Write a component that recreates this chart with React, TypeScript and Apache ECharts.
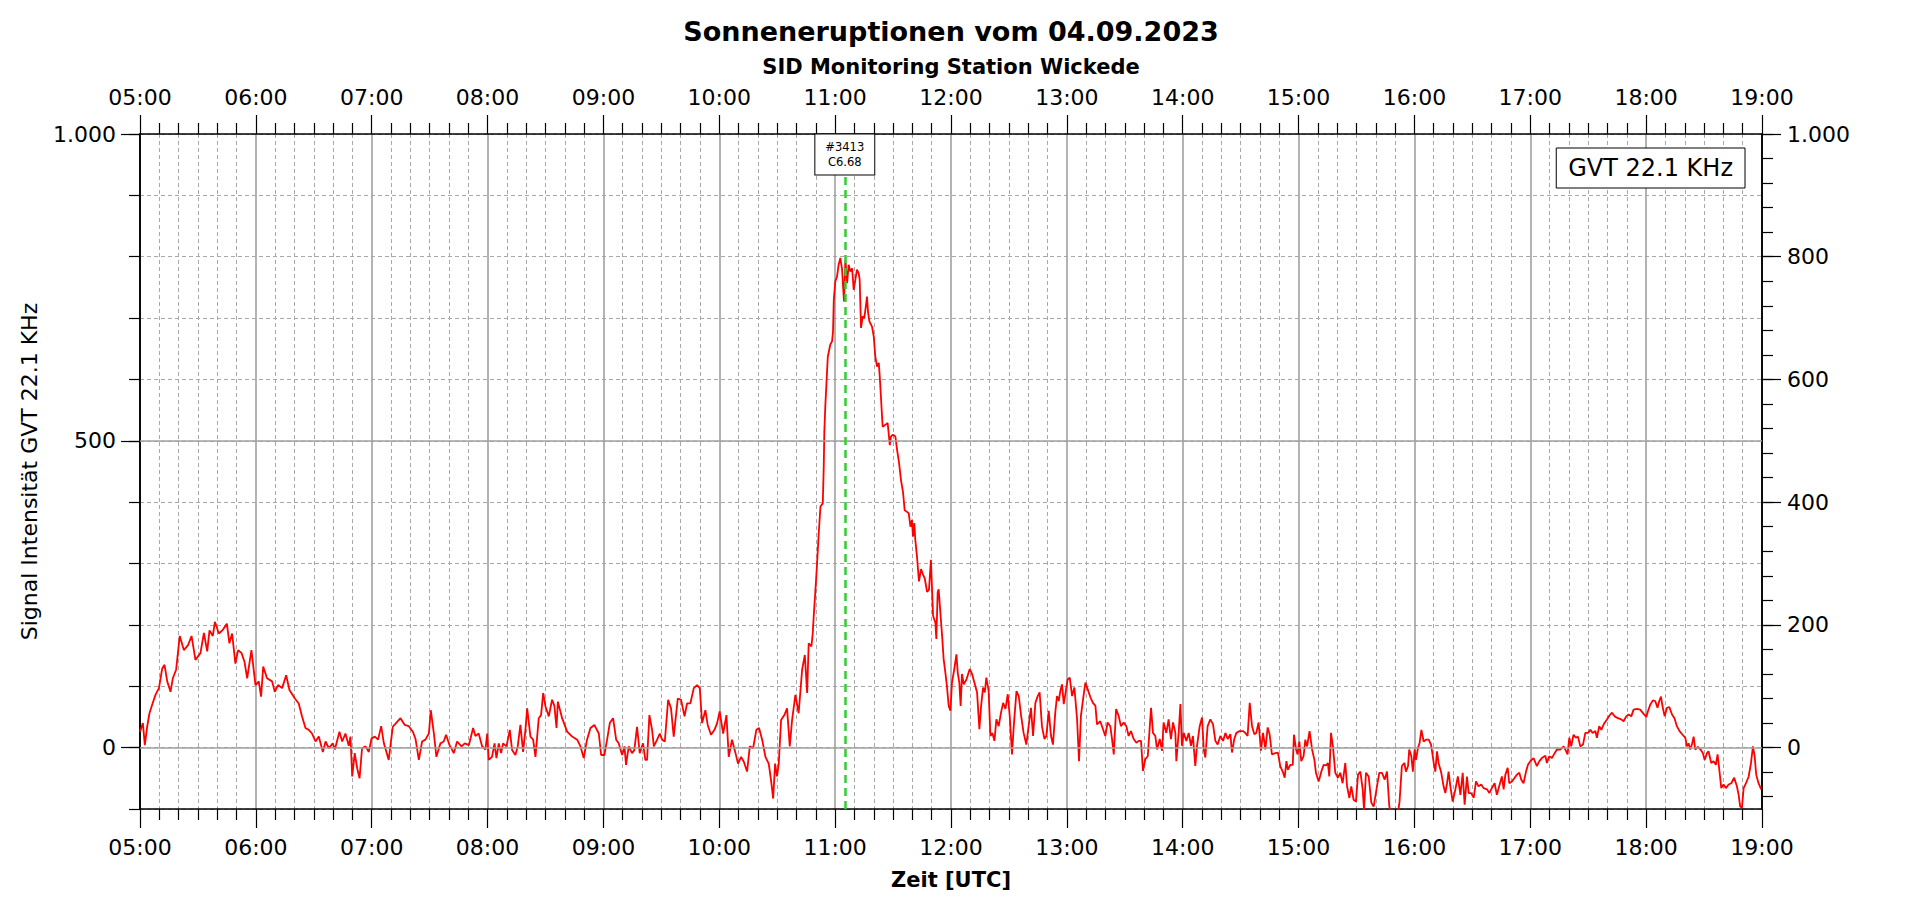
import React, { useEffect, useRef } from "react";
import * as echarts from "echarts";

// Signal values: [minutes after 05:00 UTC, intensity]
const seg0500: [number, number][] = [
  [0, 26], [1.5, 40], [2.5, 4], [3.7, 34], [4.9, 56], [6.3, 70], [8.0, 86], [9.8, 97], [11.5, 129], [12.7, 135],
  [14.1, 108], [15.8, 91], [17.0, 113], [18.7, 127], [20.6, 182], [22.7, 159], [24.9, 167], [26.7, 182], [28.7, 143],
  [31.3, 154], [33.1, 187], [34.8, 157], [36.0, 191], [37.7, 182], [38.8, 205], [40.8, 186], [42.9, 192], [45.0, 202],
  [46.3, 170], [47.7, 186], [49.4, 137], [50.8, 159], [52.6, 154], [54.1, 140], [55.5, 113], [57.7, 159], [59.8, 102],
  [61.5, 108], [62.7, 83], [63.8, 132], [65.8, 113], [68.4, 108], [69.8, 91], [71.5, 102], [73.6, 97], [75.7, 118],
  [77.4, 94], [80.2, 80], [82.2, 72], [84.0, 50], [85.7, 32], [87.4, 29], [89.1, 23], [90.9, 10], [92.6, 18], [94.7, -7],
  [96.1, 10], [97.8, -1], [99.8, 7], [100.9, -3], [103.3, 26], [104.7, 10], [106.4, 23], [108.1, 3], [109.0, 18],
  [109.9, -47], [111.2, -9], [112.5, -34], [113.7, -50], [115.0, -1], [116.8, 2], [118.5, -7], [119.9, 15],
];

const seg0700: [number, number][] = [
  [121.6, 18], [123.3, 13], [124.9, 35], [126.3, 7], [128.8, -20], [130.9, 34], [132.6, 40], [134.9, 48], [137.1, 37],
  [139.2, 35], [141.3, 26], [142.7, 14], [144.4, -20], [146.1, 10], [147.8, 13], [149.6, 23], [150.6, 61], [152.2, 23],
  [153.5, -15], [155.6, 7], [157.3, 10], [158.5, 21], [160.3, 4], [162.5, -9], [164.2, 10], [166.5, 2], [168.2, 7],
  [170.3, 4], [172.5, 32], [173.7, 19], [175.4, 23], [177.2, 2], [178.9, -3], [179.8, 23], [180.6, -20], [182.3, -15],
  [183.6, 7], [184.6, -17], [185.8, 7], [187.0, -9], [188.0, 7], [189.8, 2], [191.5, 29], [192.7, -4], [194.4, -12],
  [195.6, 2], [197.0, 37], [198.4, -7], [199.6, 29], [200.5, 64], [202.2, 18], [203.6, 13], [204.8, -15], [206.5, 48],
  [207.7, 53], [208.8, 89], [210.0, 67], [211.7, 51], [213.4, 78], [214.6, 68], [215.7, 32], [216.4, 75], [218.6, 48],
  [221.2, 26], [223.8, 18], [226.4, 13], [228.1, 2], [229.8, -17], [231.5, 13], [233.3, 32], [235.3, 37], [237.6, 23],
  [238.8, -12],
];

const seg0900: [number, number][] = [
  [240.5, -12], [241.9, 13], [243.3, 40], [245.0, 48], [246.6, 13], [247.9, 7], [249.7, -12], [250.9, 2], [251.7, -28],
  [253.1, 2], [254.8, -9], [256.0, -4], [257.4, 34], [258.8, -9], [260.5, 7], [261.7, -20], [262.6, -20], [263.8, 53],
  [265.2, 29], [266.1, 2], [267.8, 13], [269.2, 23], [270.4, 13], [271.8, 10], [273.5, 78], [275.0, 64], [276.4, 18],
  [278.5, 80], [280.2, 78], [282.0, 51], [283.3, 72], [285.0, 72], [286.8, 97], [288.5, 102], [289.9, 97], [291.1, 40],
  [292.8, 61], [294.0, 37], [295.7, 21], [297.5, 29], [298.9, 40], [300.2, 59], [302.0, 23], [303.7, 53], [304.9, -15],
  [306.6, 13], [308.4, -9], [309.7, -26], [311.3, -15], [312.7, -23], [314.4, -39], [315.8, 2], [317.5, -1], [319.2, 29],
  [320.6, 32], [322.2, 13], [323.9, -15], [325.6, -26], [326.8, -53], [327.9, -83], [328.9, -26], [329.9, -47],
  [330.8, -26], [332.0, 45], [333.7, 53], [335.1, 64], [336.5, 2], [337.7, 45], [339.4, 86], [341.1, 56], [342.9, 127],
  [344.3, 151], [345.5, 89], [346.3, 170], [347.7, 165],
];

const segFlare: [number, number][] = [
  [348.4, 186], [348.9, 214], [349.8, 257], [350.6, 298], [351.5, 349], [352.4, 393], [353.6, 398], [354.1, 458],
  [354.4, 515], [354.9, 556], [355.5, 594], [356.2, 637], [357.5, 657], [358.4, 662], [358.9, 678], [359.3, 730],
  [360.1, 760], [361.0, 768], [361.8, 787], [362.7, 798], [363.6, 779], [364.1, 752], [364.6, 727], [365.3, 795],
  [366.2, 757], [367.0, 787], [367.9, 776], [368.8, 781], [369.6, 746], [370.5, 763], [371.3, 779], [372.2, 773],
  [372.7, 763], [373.4, 684], [374.3, 703], [375.1, 700], [376.0, 722], [376.5, 735], [377.0, 711], [377.7, 695],
  [379.1, 686], [380.0, 670], [380.8, 637], [381.7, 621], [382.6, 627], [383.1, 605], [383.8, 567], [384.6, 523],
  [386.0, 526], [387.2, 529], [388.3, 493], [388.9, 507], [390.0, 510], [391.2, 507], [392.1, 485], [393.1, 464],
  [394.1, 436], [395.2, 415], [396.0, 387], [396.9, 385], [398.1, 382], [399.0, 360], [399.8, 371], [400.3, 344],
  [401.0, 366], [401.5, 339], [402.4, 311], [403.4, 271], [404.5, 291], [405.5, 282], [406.4, 276], [407.6, 254],
  [408.6, 257], [409.6, 306], [410.7, 215], [411.9, 204], [412.4, 177], [413.1, 253], [413.6, 258], [414.5, 220],
  [415.4, 182], [416.2, 144], [417.1, 122], [417.9, 100], [418.8, 68], [419.7, 60],
];

const seg1200: [number, number][] = [
  [420.5, 106], [421.7, 128], [422.8, 152], [423.5, 122], [424.3, 106], [425.0, 68], [425.7, 120], [426.6, 103],
  [428.0, 111], [429.7, 128], [430.9, 120], [432.1, 106], [433.5, 90], [434.7, 30], [435.6, 68], [436.6, 98], [437.5, 90],
  [438.3, 114], [439.5, 92], [440.4, 19], [441.4, 24], [442.5, 11], [443.5, 46], [444.7, 35], [445.9, 57], [447.0, 73],
  [448.2, 63], [449.4, 87], [450.4, 52], [451.6, -11], [452.5, 35], [453.9, 92], [455.1, 84], [456.3, 52], [457.6, 24],
  [459.0, 5], [460.2, 35], [461.4, 65], [462.5, 19], [463.7, 73], [464.9, 84], [465.9, 90], [467.1, 35], [468.4, 14],
  [469.4, 19], [470.6, 60], [471.8, 19], [472.8, 5], [474.0, 57], [474.9, 84], [475.8, 76], [476.6, 92], [477.5, 103],
  [478.4, 71], [479.6, 95], [480.4, 111], [481.5, 114], [482.7, 84], [483.9, 98], [485.3, 46], [486.3, -22], [487.3, 52],
  [488.4, 79], [489.6, 106], [490.8, 95], [492.2, 82], [493.5, 73], [494.8, 68], [495.6, 38], [497.3, 43], [498.7, 30],
  [499.9, 19], [501.1, 41], [502.5, 35], [503.4, 14], [504.3, -11], [505.5, 63], [506.8, 52], [508.0, 35], [509.4, 41],
  [510.8, 35], [512.0, 19], [513.2, 27], [514.6, 14], [516.0, 8], [517.2, 11], [518.4, 11], [519.4, -38], [520.6, -19],
  [521.9, -14], [523.6, 65], [524.6, 24], [525.8, 19], [526.7, -3], [528.1, 14], [529.3, -5], [530.1, 41], [531.5, 24],
  [532.7, 46], [533.9, 14], [535.0, 41], [536.2, 24], [536.7, -22], [537.9, 24], [538.8, 71], [539.6, 3],
];

const seg1400: [number, number][] = [
  [540.5, 24], [541.9, 11], [543.1, 24], [544.3, 3], [545.3, 19], [546.5, -30], [547.4, 3], [548.8, 35], [550.0, 49],
  [550.9, -3], [551.7, -16], [552.9, 35], [554.3, 46], [555.7, 38], [556.9, 11], [558.1, 5], [559.5, 19], [560.9, 11],
  [562.1, 24], [563.3, 14], [564.7, 22], [565.5, -8], [566.7, 14], [567.8, 24], [569.5, 27], [571.2, 27], [572.4, 24],
  [573.6, 19], [574.7, 73], [575.9, 35], [577.1, 22], [578.1, 24], [579.3, 41], [580.5, -5], [581.6, 24], [582.8, -3],
  [584.0, 33], [585.0, 22], [586.2, -11], [588.0, -9], [589.3, -8], [590.5, -30], [591.8, -39], [592.8, -49], [593.7, -22],
  [594.5, -36], [595.7, -28], [597.0, -28], [597.6, 21], [598.7, -3], [599.5, -11], [600.4, 10], [601.4, -22],
  [602.6, -14], [603.5, 13], [604.4, 2], [605.7, 27], [607.0, -3], [608.2, -20], [609.0, -41], [610.4, -55], [611.8, -39],
  [613.0, -28], [614.2, -29], [615.2, -25], [615.9, -47], [616.8, 24], [617.8, 2], [619.0, -41], [620.4, -49],
  [621.6, -41], [622.8, -58], [624.2, -25], [625.1, -63], [626.3, -82], [627.3, -63], [628.5, -85], [629.7, -88],
  [630.8, -44], [632.0, -39], [633.2, -68], [633.9, -101], [634.9, -41], [636.3, -47], [637.7, -90], [638.9, -96],
  [640.6, -63], [641.8, -41], [643.2, -41], [644.6, -52], [645.8, -39], [647.0, -96], [648.4, -117], [651.0, -117],
  [652.3, -88], [653.5, -30], [654.8, -25], [655.6, -39], [656.7, -30], [657.3, -3], [658.4, -14], [659.2, -39],
];

const seg1600: [number, number][] = [
  [660.1, -3], [660.8, -20], [661.8, -1], [662.7, 8], [663.6, 29], [664.8, 10], [666.0, 13], [667.4, 13], [668.6, 5],
  [670.0, -25], [670.8, -39], [671.7, -6], [672.5, -25], [673.9, -41], [675.1, -63], [676.0, -74], [676.9, -58],
  [677.7, -39], [678.6, -63], [679.8, -88], [681.2, -68], [682.5, -47], [683.8, -77], [685.0, -41], [686.0, -93],
  [687.2, -47], [688.1, -74], [689.4, -74], [690.7, -82], [691.9, -55], [693.2, -63], [694.6, -60], [695.8, -66],
  [697.6, -68], [698.8, -74], [700.1, -66], [701.5, -58], [702.7, -77], [703.9, -63], [705.3, -47], [706.2, -68],
  [707.1, -44], [708.3, -33], [709.1, -58], [710.5, -55], [711.9, -49], [713.1, -44], [714.3, -41], [715.3, -52],
  [716.5, -58], [717.8, -39], [718.8, -28], [720.0, -22], [721.7, -17], [723.4, -30], [724.7, -22], [726.0, -17],
  [727.8, -13], [728.6, -25], [729.8, -14], [731.2, -17], [732.6, -9], [733.8, -3], [735.5, -3], [737.3, 2], [738.1, -3],
  [739.3, -11], [740.2, 16], [741.2, 2], [742.4, 21], [743.6, 16], [744.7, 18], [745.9, 2], [747.3, 5], [748.5, 24],
  [749.9, 24], [751.1, 29], [752.3, 24], [753.7, 27], [754.5, 16], [755.7, 35], [756.8, 29], [758.0, 38], [759.7, 46],
  [760.9, 52], [762.3, 57], [763.7, 51], [765.4, 48], [767.1, 46], [768.3, 43], [769.7, 51], [770.9, 54], [772.3, 51],
  [773.5, 62], [775.2, 63], [776.9, 62], [778.7, 55],
];

const seg1800: [number, number][] = [
  [780.1, 50], [780.9, 59], [782.1, 70], [783.5, 77], [784.7, 76], [785.9, 65], [786.8, 76], [787.7, 83], [788.5, 67],
  [789.6, 51], [790.8, 65], [792.0, 66], [793.4, 54], [794.7, 48], [795.9, 35], [797.3, 27], [798.9, 21], [800.3, 16],
  [801.1, 2], [802.0, 7], [802.8, -3], [803.7, 5], [804.6, 18], [805.4, -3], [806.8, 1], [808.2, -3], [809.4, -9],
  [810.3, -20], [811.5, -9], [812.3, -6], [813.7, -25], [814.9, -22], [816.1, -28], [817.0, -11], [817.9, -36],
  [818.9, -66], [820.1, -60], [821.3, -66], [822.7, -60], [824.1, -58], [825.6, -49], [827.0, -63], [827.9, -77],
  [828.7, -96], [829.6, -98], [830.5, -66], [831.7, -58], [833.1, -47], [834.3, -25], [835.3, 2], [836.2, -14],
  [837.0, -44], [838.2, -58], [839.6, -68],
];

const START_HOUR = 5;
const X_MIN = 0;
const X_MAX = 840;
const Y_MIN = -100;
const Y_MAX = 1000;
const leftLabelValues = [0, 500, 1000];
const rightLabelValues = [0, 200, 400, 600, 800, 1000];
const rightMinorTickValues = [-80, -40, 0, 40, 80, 120, 160, 200, 240, 280, 320, 360, 400, 440, 480, 520, 560, 600, 640, 680, 720, 760, 800, 840, 880, 920, 960, 1000];
const solidRefLines = [0, 500];

const flareTime = 365; // 11:05 UTC
const flareBoxBottom = 934;
const flareLabel = "#3413\nC6.68";

const TITLE = "Sonneneruptionen vom 04.09.2023";
const SUBTITLE = "SID Monitoring Station Wickede";
const SERIES_NAME = "GVT 22.1 KHz";
const Y_NAME = "Signal Intensität GVT 22.1 KHz";
const X_NAME = "Zeit [UTC]";

const FONT = '"DejaVu Sans", sans-serif';
const GRID_GRAY = "#a0a0a0";
const DASH_GRAY = "#a8a8a8";

const fmtTime = (v: number) => `${String(START_HOUR + Math.round(v / 60)).padStart(2, "0")}:00`;
const fmtVal = (v: number) => (v >= 1000 ? "1.000" : String(v));

export default function App() {
  const ref = useRef<HTMLDivElement>(null);
  useEffect(() => {
    if (!ref.current) return;
    const chart = echarts.init(ref.current, undefined, { renderer: "svg" });
    const data = [...seg0500, ...seg0700, ...seg0900, ...segFlare, ...seg1200, ...seg1400, ...seg1600, ...seg1800];
    const gridRect = { left: 140, top: 134, right: 158, bottom: 95 };
    const labelStyle = { color: "#000", fontSize: 22, fontFamily: FONT };
    const xBase = {
      type: "value" as const,
      min: X_MIN,
      max: X_MAX,
      interval: 60,
      axisLine: { show: true, onZero: false, lineStyle: { color: "#000", width: 1.5 } },
      axisTick: { show: true, length: 19, lineStyle: { color: "#000", width: 1.2 } },
      minorTick: { show: true, splitNumber: 6, length: 11, lineStyle: { color: "#000", width: 1.2 } },
    };
    const option: any = {
      animation: false,
      backgroundColor: "#fff",
      graphic: [
        {
          type: "text",
          x: 951,
          y: 31,
          style: {
            text: TITLE, fill: "#000", fontSize: 27, fontWeight: "bold", fontFamily: FONT,
            align: "center", verticalAlign: "middle", textAlign: "center", textVerticalAlign: "middle",
          },
        },
        {
          type: "text",
          x: 951,
          y: 67,
          style: {
            text: SUBTITLE, fill: "#000", fontSize: 21, fontWeight: "bold", fontFamily: FONT,
            align: "center", verticalAlign: "middle", textAlign: "center", textVerticalAlign: "middle",
          },
        },
      ],
      legend: {
        data: [SERIES_NAME],
        right: 175,
        top: 148,
        icon: "none",
        itemWidth: 0,
        itemHeight: 0,
        selectedMode: false,
        backgroundColor: "#fff",
        borderColor: "#000",
        borderWidth: 1,
        borderRadius: 0,
        padding: [8, 12, 8, 7],
        textStyle: { color: "#000", fontSize: 24, fontFamily: FONT },
      },
      grid: [
        { ...gridRect, containLabel: false },
        { ...gridRect, containLabel: false },
      ],
      xAxis: [
        {
          ...xBase,
          gridIndex: 0,
          position: "bottom",
          name: X_NAME,
          nameLocation: "middle",
          nameGap: 60,
          nameTextStyle: { color: "#000", fontSize: 21, fontWeight: "bold", fontFamily: FONT },
          axisLabel: { ...labelStyle, margin: 27, formatter: fmtTime },
          splitLine: { show: true, lineStyle: { color: GRID_GRAY, width: 1.6, type: "solid" } },
          minorSplitLine: { show: true, lineStyle: { color: DASH_GRAY, width: 1, type: [4, 3] } },
        },
        {
          ...xBase,
          gridIndex: 0,
          position: "top",
          axisLabel: { ...labelStyle, margin: 26, formatter: fmtTime },
          splitLine: { show: false },
          minorSplitLine: { show: false },
        },
        { type: "value", gridIndex: 1, min: X_MIN, max: X_MAX, show: false },
      ],
      yAxis: [
        {
          type: "value",
          gridIndex: 0,
          position: "left",
          min: Y_MIN,
          max: Y_MAX,
          interval: 100,
          name: Y_NAME,
          nameLocation: "middle",
          nameGap: 100,
          nameTextStyle: { color: "#000", fontSize: 22, fontFamily: FONT },
          axisLine: { show: true, onZero: false, lineStyle: { color: "#000", width: 1.5 } },
          axisTick: { show: true, length: 11, lineStyle: { color: "#000", width: 1.2 } },
          axisLabel: { ...labelStyle, margin: 24, customValues: leftLabelValues, formatter: fmtVal },
          splitLine: { show: true, lineStyle: { color: DASH_GRAY, width: 1, type: [4, 3] } },
        },
        {
          type: "value",
          gridIndex: 0,
          position: "right",
          min: Y_MIN,
          max: Y_MAX,
          interval: 100,
          axisLine: { show: true, onZero: false, lineStyle: { color: "#000", width: 1.5 } },
          axisTick: { show: true, length: 11, customValues: rightMinorTickValues, lineStyle: { color: "#000", width: 1.2 } },
          axisLabel: { ...labelStyle, margin: 25, customValues: rightLabelValues, formatter: fmtVal },
          splitLine: { show: false },
        },
        {
          type: "value",
          gridIndex: 1,
          position: "left",
          min: Y_MIN,
          max: Y_MAX,
          interval: 100,
          axisLine: { show: true, onZero: false, lineStyle: { color: "#000", width: 1.5 } },
          axisTick: { show: true, length: 19, customValues: leftLabelValues, lineStyle: { color: "#000", width: 1.2 } },
          axisLabel: { show: false },
          splitLine: { show: false },
        },
        {
          type: "value",
          gridIndex: 1,
          position: "right",
          min: Y_MIN,
          max: Y_MAX,
          interval: 100,
          axisLine: { show: true, onZero: false, lineStyle: { color: "#000", width: 1.5 } },
          axisTick: { show: true, length: 19, customValues: rightLabelValues, lineStyle: { color: "#000", width: 1.2 } },
          axisLabel: { show: false },
          splitLine: { show: false },
        },
      ],
      series: [
        {
          type: "line",
          xAxisIndex: 0,
          yAxisIndex: 0,
          data: [],
          z: 1,
          silent: true,
          markLine: {
            silent: true,
            symbol: ["none", "none"],
            label: { show: false },
            lineStyle: { color: GRID_GRAY, width: 1.6, type: "solid" },
            data: solidRefLines.map((v) => ({ yAxis: v })),
          },
        },
        {
          type: "line",
          xAxisIndex: 2,
          yAxisIndex: 2,
          data: [],
          silent: true,
        },
        {
          name: SERIES_NAME,
          type: "line",
          xAxisIndex: 0,
          yAxisIndex: 0,
          data,
          z: 3,
          clip: true,
          showSymbol: false,
          symbol: "none",
          lineStyle: { color: "#ff0000", width: 1.8 },
          itemStyle: { color: "#ff0000" },
          markLine: {
            silent: true,
            symbol: ["none", "none"],
            lineStyle: { color: "#33cc33", width: 2.5, type: [8, 5] },
            label: {
              show: true,
              position: "end",
              distance: 0,
              formatter: flareLabel,
              color: "#000",
              fontSize: 11.5,
              lineHeight: 15,
              fontFamily: FONT,
              align: "center",
              backgroundColor: "#fff",
              borderColor: "#000",
              borderWidth: 1,
              padding: [5, 10, 5, 10],
            },
            data: [[{ coord: [flareTime, Y_MIN] }, { coord: [flareTime, flareBoxBottom] }]],
          },
        },
      ],
    };
    chart.setOption(option);
    return () => chart.dispose();
  }, []);
  return <div ref={ref} style={{ position: "fixed", left: 0, top: 0, width: 1920, height: 904 }} />;
}
